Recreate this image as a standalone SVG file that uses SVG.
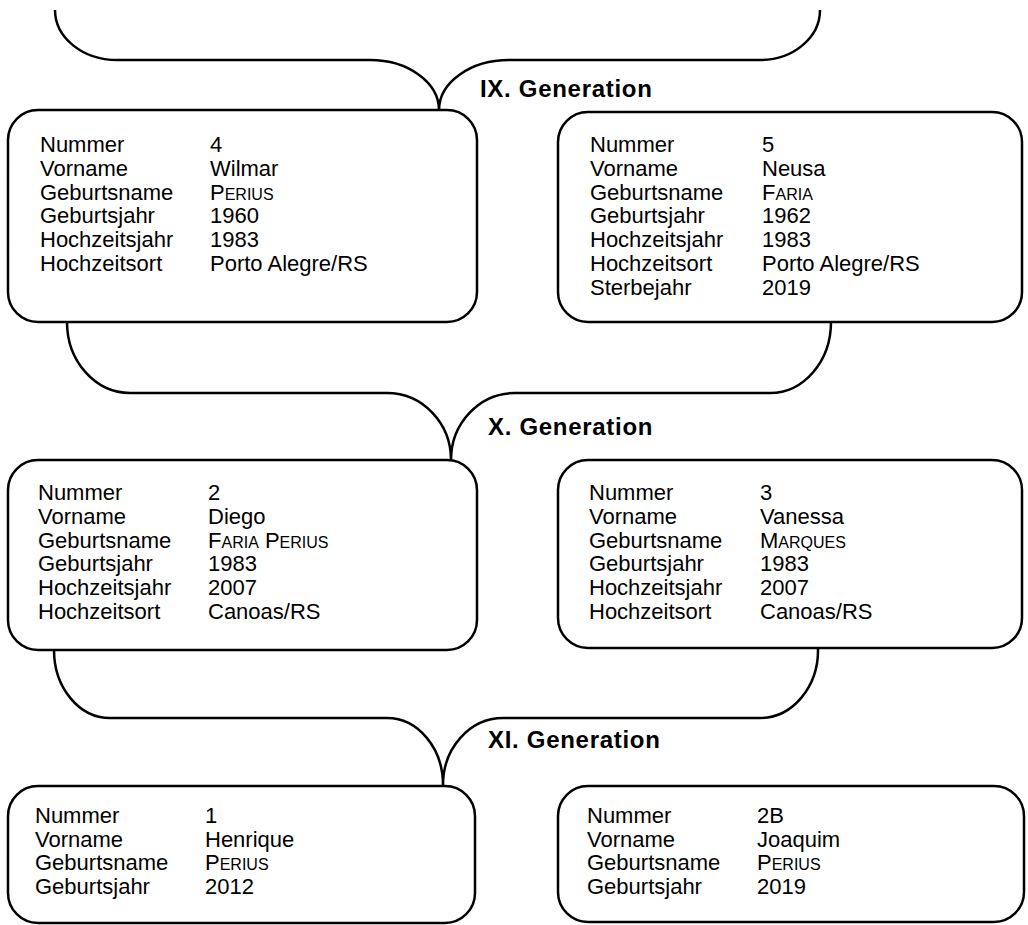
<svg xmlns="http://www.w3.org/2000/svg" width="1028" height="925" viewBox="0 0 1028 925">
<style>
.box{fill:#fff;stroke:#000;stroke-width:2.5}
.con{fill:none;stroke:#000;stroke-width:2.5}
.t{font-family:"Liberation Sans",Arial,sans-serif;font-size:22px;fill:#000}
.sc{font-size:16px}
.gen{font-family:"Liberation Sans",Arial,sans-serif;font-size:24px;font-weight:bold;letter-spacing:0.7px;fill:#000}
</style>
<rect width="1028" height="925" fill="#fff"/>
<g id="connectors">
<path class="con" d="M55,10 A62,50 0 0 0 117,60 L370,60 A69,50 0 0 1 439,110 A70,50 0 0 1 509,60 L760,60 A60,50 0 0 0 820,10"/>
<path class="con" d="M67,322 A63,71 0 0 0 130,393 L387,393 A64,67 0 0 1 451,460 A64,67 0 0 1 515,393 L770,393 A61,71 0 0 0 831,322"/>
<path class="con" d="M54,650 A56,68 0 0 0 110,718 L387,718 A56,67 0 0 1 443,785 A60,67 0 0 1 503,718 L760,718 A58,68 0 0 0 818,648"/>
</g>
<g id="labels">
<text class="gen" x="480" y="97">IX. Generation</text>
<text class="gen" x="488" y="435">X. Generation</text>
<text class="gen" x="488" y="748">XI. Generation</text>
</g>
<g id="node4">
<rect class="box" x="8" y="110" width="469" height="212" rx="30" ry="30"/>
<text class="t" x="40" y="152">Nummer</text><text class="t" x="210" y="152">4</text>
<text class="t" x="40" y="175.8">Vorname</text><text class="t" x="210" y="175.8">Wilmar</text>
<text class="t" x="40" y="199.6">Geburtsname</text><text class="t" x="210" y="199.6">P<tspan class="sc">ERIUS</tspan></text>
<text class="t" x="40" y="223.4">Geburtsjahr</text><text class="t" x="210" y="223.4">1960</text>
<text class="t" x="40" y="247.2">Hochzeitsjahr</text><text class="t" x="210" y="247.2">1983</text>
<text class="t" x="40" y="271">Hochzeitsort</text><text class="t" x="210" y="271">Porto Alegre/RS</text>
</g>
<g id="node5">
<rect class="box" x="558" y="112" width="464" height="210" rx="30" ry="30"/>
<text class="t" x="590" y="152">Nummer</text><text class="t" x="762" y="152">5</text>
<text class="t" x="590" y="175.8">Vorname</text><text class="t" x="762" y="175.8">Neusa</text>
<text class="t" x="590" y="199.6">Geburtsname</text><text class="t" x="762" y="199.6">F<tspan class="sc">ARIA</tspan></text>
<text class="t" x="590" y="223.4">Geburtsjahr</text><text class="t" x="762" y="223.4">1962</text>
<text class="t" x="590" y="247.2">Hochzeitsjahr</text><text class="t" x="762" y="247.2">1983</text>
<text class="t" x="590" y="271">Hochzeitsort</text><text class="t" x="762" y="271">Porto Alegre/RS</text>
<text class="t" x="590" y="294.8">Sterbejahr</text><text class="t" x="762" y="294.8">2019</text>
</g>
<g id="node2">
<rect class="box" x="8" y="460" width="469" height="190" rx="30" ry="30"/>
<text class="t" x="38" y="500">Nummer</text><text class="t" x="208" y="500">2</text>
<text class="t" x="38" y="523.8">Vorname</text><text class="t" x="208" y="523.8">Diego</text>
<text class="t" x="38" y="547.6">Geburtsname</text><text class="t" x="208" y="547.6">F<tspan class="sc">ARIA</tspan> P<tspan class="sc">ERIUS</tspan></text>
<text class="t" x="38" y="571.4">Geburtsjahr</text><text class="t" x="208" y="571.4">1983</text>
<text class="t" x="38" y="595.2">Hochzeitsjahr</text><text class="t" x="208" y="595.2">2007</text>
<text class="t" x="38" y="619">Hochzeitsort</text><text class="t" x="208" y="619">Canoas/RS</text>
</g>
<g id="node3">
<rect class="box" x="558" y="460" width="464" height="188" rx="30" ry="30"/>
<text class="t" x="589" y="500">Nummer</text><text class="t" x="760" y="500">3</text>
<text class="t" x="589" y="523.8">Vorname</text><text class="t" x="760" y="523.8">Vanessa</text>
<text class="t" x="589" y="547.6">Geburtsname</text><text class="t" x="760" y="547.6">M<tspan class="sc">ARQUES</tspan></text>
<text class="t" x="589" y="571.4">Geburtsjahr</text><text class="t" x="760" y="571.4">1983</text>
<text class="t" x="589" y="595.2">Hochzeitsjahr</text><text class="t" x="760" y="595.2">2007</text>
<text class="t" x="589" y="619">Hochzeitsort</text><text class="t" x="760" y="619">Canoas/RS</text>
</g>
<g id="node1">
<rect class="box" x="8" y="786" width="467" height="137" rx="30" ry="30"/>
<text class="t" x="35" y="823">Nummer</text><text class="t" x="205" y="823">1</text>
<text class="t" x="35" y="846.6">Vorname</text><text class="t" x="205" y="846.6">Henrique</text>
<text class="t" x="35" y="870.2">Geburtsname</text><text class="t" x="205" y="870.2">P<tspan class="sc">ERIUS</tspan></text>
<text class="t" x="35" y="893.8">Geburtsjahr</text><text class="t" x="205" y="893.8">2012</text>
</g>
<g id="node2B">
<rect class="box" x="558" y="786" width="466" height="136" rx="30" ry="30"/>
<text class="t" x="587" y="823">Nummer</text><text class="t" x="757" y="823">2B</text>
<text class="t" x="587" y="846.6">Vorname</text><text class="t" x="757" y="846.6">Joaquim</text>
<text class="t" x="587" y="870.2">Geburtsname</text><text class="t" x="757" y="870.2">P<tspan class="sc">ERIUS</tspan></text>
<text class="t" x="587" y="893.8">Geburtsjahr</text><text class="t" x="757" y="893.8">2019</text>
</g>
</svg>
